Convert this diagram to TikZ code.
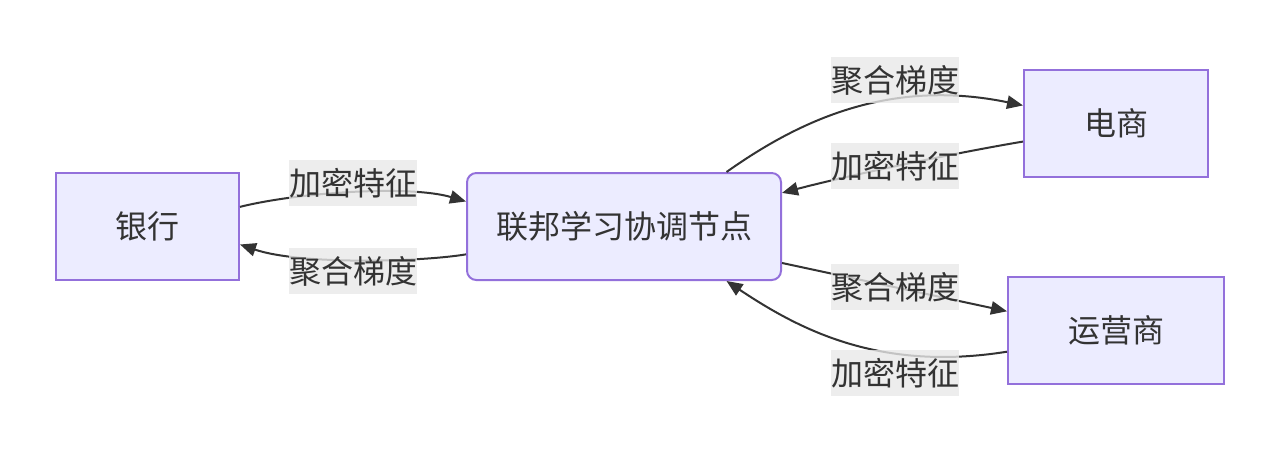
\documentclass[tikz,border=0pt]{standalone}
\usepackage{fontspec}
\setmainfont{Noto Sans CJK SC}
\usetikzlibrary{arrows.meta}
\definecolor{nodefill}{RGB}{236,236,255}
\definecolor{nodeline}{RGB}{147,112,219}
\definecolor{txt}{RGB}{51,51,51}
\definecolor{lblbg}{RGB}{232,232,232}
\tikzset{
  box/.style={draw=nodeline, fill=nodefill, line width=1.5pt, minimum height=80.25pt, text=txt, font=\fontsize{24pt}{28pt}\selectfont, inner sep=0pt},
  rbox/.style={box, rounded corners=7pt},
  lbl/.style={fill=lblbg, fill opacity=0.8, text opacity=1, text=txt, font=\fontsize{24pt}{28pt}\selectfont, minimum height=34.5pt, minimum width=94.5pt, inner sep=0pt},
  edge/.style={draw=txt, line width=1.5pt, -{Triangle[length=12pt,width=10pt]}}
}
\begin{document}
\begin{tikzpicture}[x=0.75pt,y=-0.75pt]
\useasboundingbox (0,0) rectangle (1280,454);
\node[box, minimum width=137.25pt] (bank) at (147.5,226.5) {银行};
\node[rbox, minimum width=235.5pt] (coord) at (624,226.5) {联邦学习协调节点};
\node[box, minimum width=138pt] (ec) at (1116,123.5) {电商};
\node[box, minimum width=162pt] (op) at (1116,330.5) {运营商};

\draw[edge] (bank.12) .. controls (300,192) and (410,185) .. (coord.171);
\draw[edge] (coord.190) .. controls (420,262) and (300,265) .. (bank.-11);
\draw[edge] (coord.28) .. controls (800,120) and (890,78) .. (ec.169);
\draw[edge] (ec.191) .. controls (960,152) and (850,175) .. (coord.12);
\draw[edge] (coord.-13) -- (op.170);
\draw[edge] (op.191) .. controls (880,372) and (800,330) .. (coord.-28);

\node[lbl] (l1) at (353,183) {加密特征};
\node[lbl] (l2) at (353,271) {聚合梯度};
\node[lbl] (l3) at (895,80) {聚合梯度};
\node[lbl] (l4) at (895,166) {加密特征};
\node[lbl] (l5) at (895,287) {聚合梯度};
\node[lbl] (l6) at (895,373) {加密特征};
\end{tikzpicture}
\end{document}
